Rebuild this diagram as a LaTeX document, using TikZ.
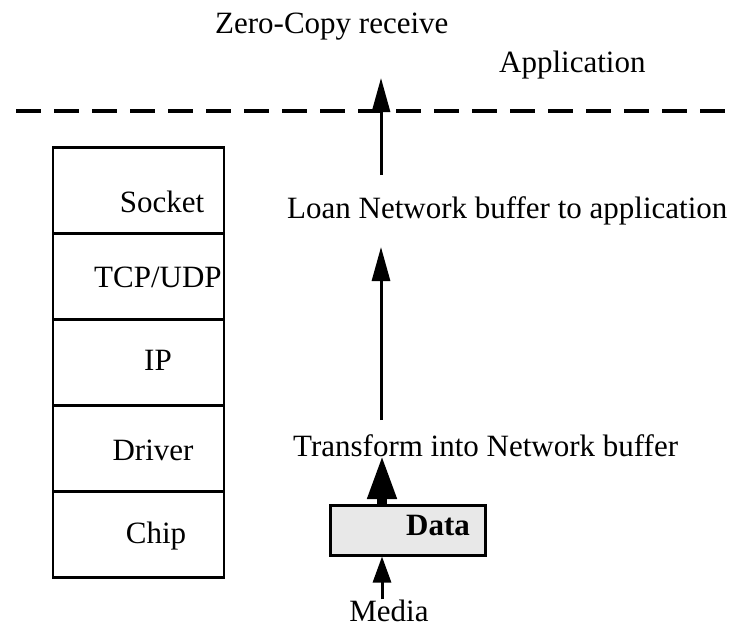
\documentclass[tikz,border=0pt]{standalone}
\usepackage{fontspec}
\setmainfont{Liberation Serif}
\usetikzlibrary{arrows.meta}

\tikzset{
  lbl/.style={inner sep=0pt, font=\fontsize{31}{37}\selectfont},
  layer/.style={draw, line width=2.5pt, minimum width=171pt, minimum height=86pt, inner sep=0pt},
  flow/.style={line width=3pt, -{Triangle[length=34pt,width=18pt]}},
  bigflow/.style={line width=10pt, -{Triangle[length=44pt,width=27pt]}},
  smallflow/.style={line width=3pt, -{Triangle[length=26pt,width=18pt]}},
  boundary/.style={line width=4pt, dash pattern=on 25pt off 13pt}
}

\begin{document}
\begin{tikzpicture}[x=1pt,y=-1pt]
\useasboundingbox (0,0) rectangle (739,627);

% titles
\node[lbl, anchor=base west] (title) at (215,33) {Zero-Copy receive};
\node[lbl, anchor=base west] (app) at (499,72) {Application};

% user/kernel boundary
\draw[boundary] (16,111) -- (727,111);

% protocol stack
\node[layer] (socket) at (138.5,190.5) {};
\node[layer] (tcp)    at (138.5,276.5) {};
\node[layer] (ip)     at (138.5,362.5) {};
\node[layer] (driver) at (138.5,448.5) {};
\node[layer] (chip)   at (138.5,534.5) {};
\node[lbl, anchor=base] at (162,212) {Socket};
\node[lbl, anchor=base west] at (94,287) {TCP/UDP};
\node[lbl, anchor=base] at (158,370) {IP};
\node[lbl, anchor=base] at (153,460) {Driver};
\node[lbl, anchor=base] at (156,543) {Chip};

% receive path
\node[lbl, anchor=base west] (loan) at (287,218) {Loan Network buffer to application};
\node[lbl, anchor=base west] (xform) at (293,456) {Transform into Network buffer};
\node[draw, line width=3pt, fill=gray!18, minimum width=155pt, minimum height=50pt, inner sep=0pt] (data) at (407.5,530) {};
\node[lbl, anchor=base west, font=\fontsize{31}{37}\selectfont\bfseries] (datatext) at (406,535) {Data};
\node[lbl, anchor=base] (media) at (389,621) {Media};

\coordinate (a1s) at (381,175);
\coordinate (a1e) at (381,78);
\coordinate (a2s) at (381,420);
\coordinate (a2e) at (381,247);
\coordinate (a3e) at (382,455);

\draw[flow] (a1s) -- (a1e);
\draw[flow] (a2s) -- (a2e);
\draw[bigflow] (data.north -| a3e) -- (a3e);
\draw[smallflow] (media.north -| a3e) -- (data.south -| a3e);
\end{tikzpicture}
\end{document}
